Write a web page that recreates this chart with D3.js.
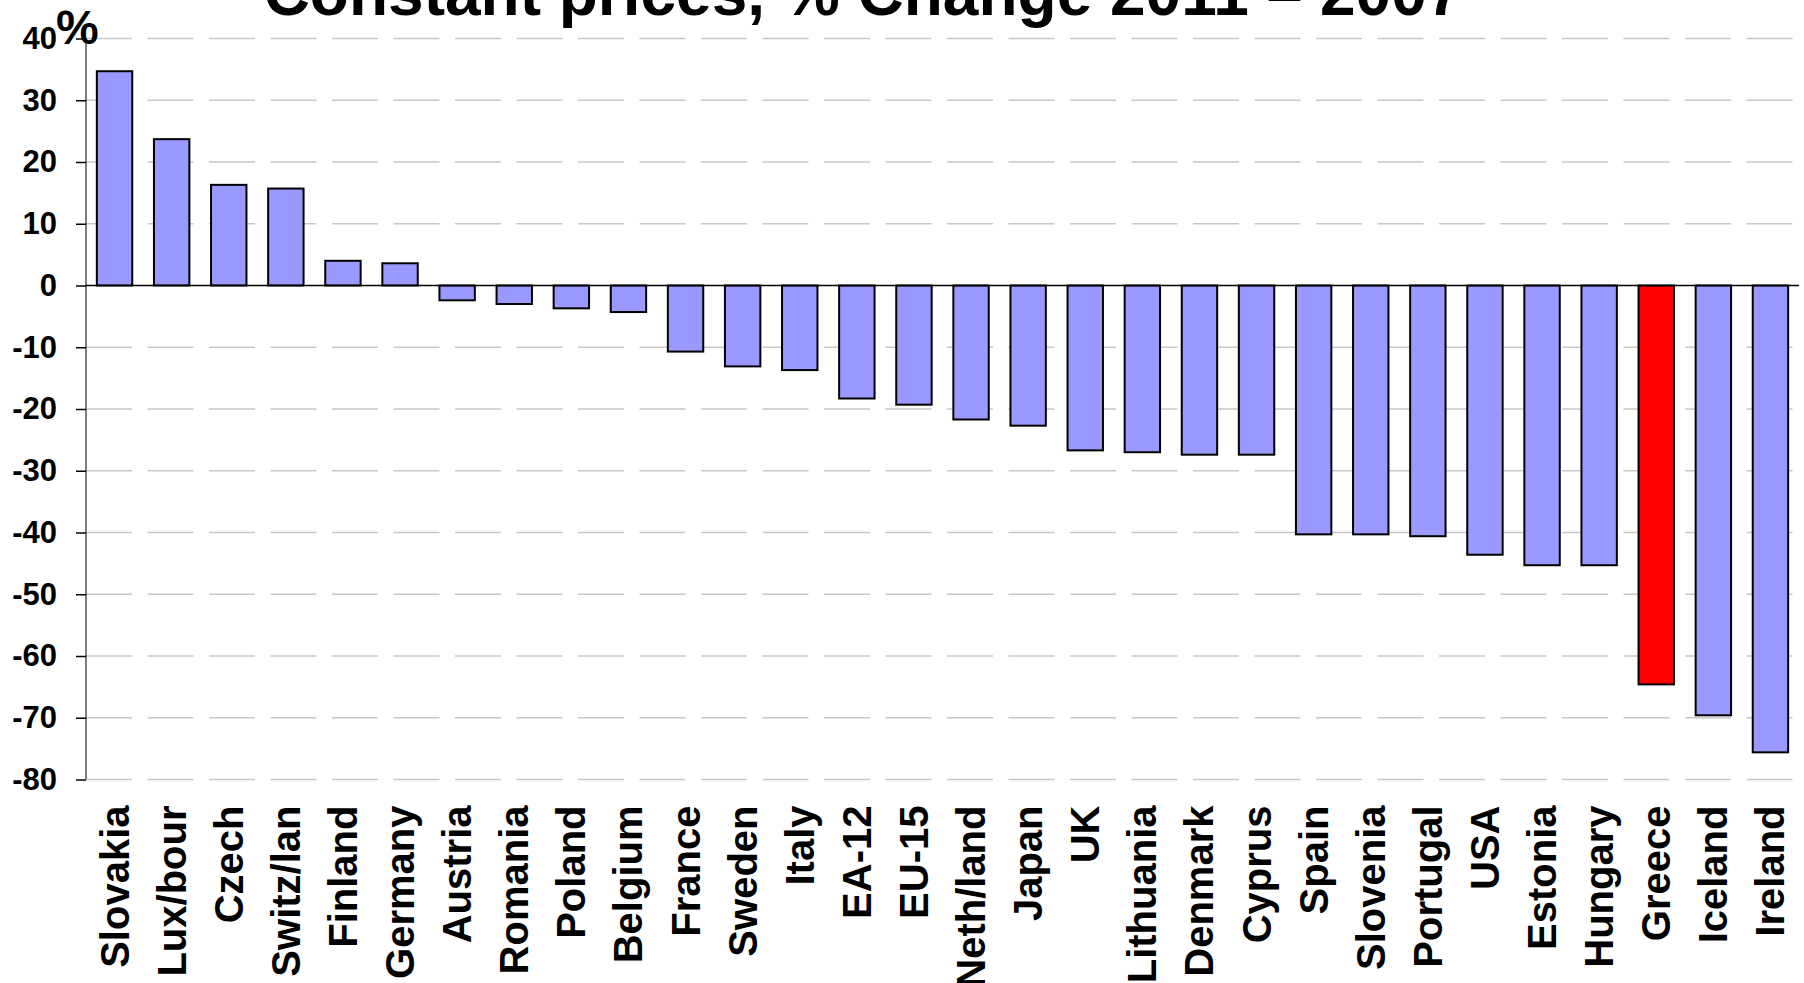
<!DOCTYPE html>
<html>
<head>
<meta charset="utf-8">
<script src="https://cdn.jsdelivr.net/npm/d3@7"></script>
<style>
  body { margin: 0; background: #fff; }
  svg { display: block; font-family: "Liberation Sans", Arial, Helvetica, sans-serif; }
</style>
</head>
<body>
<svg id="chart" width="1804" height="983"></svg>
<script>
// ---- data ----
const countries = [
  "Slovakia", "Lux/bour", "Czech", "Switz/lan", "Finland", "Germany",
  "Austria", "Romania", "Poland", "Belgium", "France", "Sweden", "Italy",
  "EA-12", "EU-15", "Neth/land", "Japan", "UK", "Lithuania", "Denmark",
  "Cyprus", "Spain", "Slovenia", "Portugal", "USA", "Estonia", "Hungary",
  "Greece", "Iceland", "Ireland"
];
const changes = [
  34.7, 23.7, 16.3, 15.7, 4.0, 3.6,
  -2.4, -3.0, -3.7, -4.3, -10.7, -13.1, -13.7,
  -18.3, -19.3, -21.7, -22.7, -26.7, -27.0, -27.4,
  -27.4, -40.3, -40.3, -40.6, -43.6, -45.3, -45.3,
  -64.6, -69.6, -75.6
];
const highlighted = ["Greece"];
const yTicks = [40, 30, 20, 10, 0, -10, -20, -30, -40, -50, -60, -70, -80];
const titleText = "Constant prices, % Change 2011 \u2013 2007";
const unitText = "%";

const data = countries.map((c, i) => ({ name: c, value: changes[i] }));

const svg = d3.select("#chart");
const margin = { top: 38.5, right: 5, bottom: 203.5, left: 86 };
const width = +svg.attr("width");
const height = +svg.attr("height");
const innerWidth = width - margin.left - margin.right;
const innerHeight = height - margin.top - margin.bottom;

const g = svg.append("g")
  .attr("transform", `translate(${margin.left},${margin.top})`);

const x = d3.scaleBand()
  .domain(countries)
  .range([0, innerWidth])
  .paddingInner(0.38)
  .paddingOuter(0.19);

const y = d3.scaleLinear()
  .domain([-80, 40])
  .range([innerHeight, 0]);

// dashed gridlines (not at zero)
g.append("g")
  .selectAll("line")
  .data(yTicks.filter((t) => t !== 0))
  .join("line")
  .attr("x1", 0)
  .attr("x2", innerWidth)
  .attr("y1", (d) => y(d))
  .attr("y2", (d) => y(d))
  .attr("stroke", "#c8c8c8")
  .attr("stroke-width", 1.5)
  .attr("stroke-dasharray", "46 15.5");

// y axis (plain hyphen for negatives, like the original)
g.append("g")
  .call(d3.axisLeft(y).tickValues(yTicks).tickSize(10).tickPadding(19).tickFormat((d) => String(d)))
  .call((a) => a.select(".domain").attr("stroke", "#555").attr("stroke-width", 1.5).attr("d", `M0,${y(40)}V${y(-80)}`))
  .call((a) => a.selectAll(".tick line").attr("stroke", "#000").attr("stroke-width", 1.5))
  .call((a) => a.selectAll("text")
    .attr("fill", "#000")
    .style("font-size", "31px")
    .style("font-weight", "bold")
    .style("font-family", "'Liberation Sans', Arial, sans-serif"));

// bars
g.append("g")
  .selectAll("rect")
  .data(data)
  .join("rect")
  .attr("x", (d) => x(d.name))
  .attr("width", x.bandwidth())
  .attr("y", (d) => y(Math.max(0, d.value)))
  .attr("height", (d) => Math.abs(y(d.value) - y(0)))
  .attr("fill", (d) => (highlighted.includes(d.name) ? "#ff0000" : "#9999ff"))
  .attr("stroke", "#000")
  .attr("stroke-width", 2);

// zero line
g.append("line")
  .attr("x1", 0)
  .attr("x2", innerWidth)
  .attr("y1", y(0))
  .attr("y2", y(0))
  .attr("stroke", "#000")
  .attr("stroke-width", 1.5);

// category labels, rotated
g.append("g")
  .selectAll("text")
  .data(countries)
  .join("text")
  .attr("transform", (d) => `translate(${x(d) + x.bandwidth() / 2},${y(-80) + 26}) rotate(-90)`)
  .attr("dy", "0.35em")
  .attr("text-anchor", "end")
  .attr("font-size", 40)
  .attr("font-weight", "bold")
  .attr("fill", "#000")
  .text((d) => d);

// title (partly cut off at top, as in the original)
svg.append("text")
  .attr("x", 863)
  .attr("y", 15)
  .attr("text-anchor", "middle")
  .attr("font-size", 64)
  .attr("font-weight", "bold")
  .attr("fill", "#000")
  .text(titleText);

// unit
svg.append("text")
  .attr("x", 56)
  .attr("y", 44)
  .attr("font-size", 48)
  .attr("font-weight", "bold")
  .attr("fill", "#000")
  .text(unitText);
</script>
</body>
</html>
